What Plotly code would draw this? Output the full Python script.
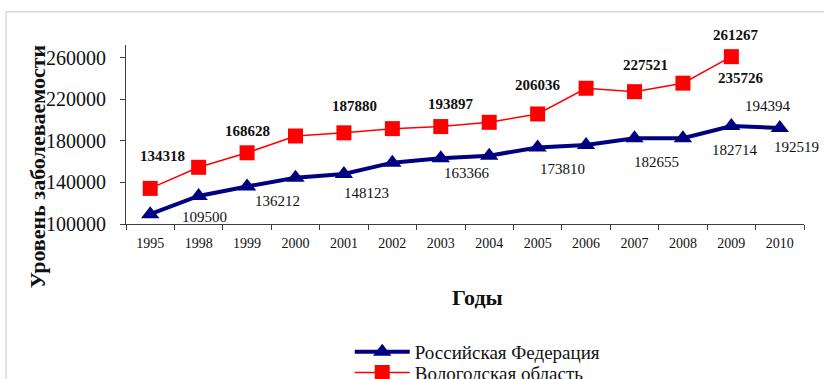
import plotly.graph_objects as go

# Годы наблюдения (категориальная ось)
years = ["1995", "1998", "1999", "2000", "2001", "2002", "2003",
         "2004", "2005", "2006", "2007", "2008", "2009", "2010"]

# Уровень заболеваемости, Российская Федерация
rf_values = [109500, 127000, 136212, 144500, 148123, 159100, 163366,
             165800, 173810, 176100, 182655, 182714, 194394, 192519]

# Уровень заболеваемости, Вологодская область (2010 нет данных)
vo_values = [134318, 154650, 168628, 184800, 187880, 191900, 193897,
             198000, 206036, 230800, 227521, 235726, 261267, None]

# Подписи значений: год, значение, смещение подписи (px)
rf_labels = [("1995", 109500, 54, -3), ("1999", 136212, 30, -15),
             ("2001", 148123, 23, -19), ("2003", 163366, 26, -15),
             ("2005", 173810, 25, -22), ("2007", 182655, 22, -24),
             ("2008", 182714, 52, -12), ("2009", 194394, 37, 20),
             ("2010", 192519, 17, -19)]
vo_labels = [("1995", 134318, 12, 32), ("1999", 168628, 0, 22),
             ("2001", 187880, 11, 27), ("2003", 193897, 10, 23),
             ("2005", 206036, 0, 29), ("2007", 227521, 11, 27),
             ("2008", 235726, 58, 5), ("2009", 261267, 5, 22)]

y_ticks = [100000, 140000, 180000, 220000, 260000]

SERIF = "Liberation Serif, Times New Roman, serif"

fig = go.Figure()
fig.add_trace(go.Scatter(
    x=years, y=rf_values, name="Российская Федерация", mode="lines+markers",
    line=dict(color="#000080", width=4),
    marker=dict(symbol="triangle-up", size=16, color="#000080"),
    legend="legend",
))
fig.add_trace(go.Scatter(
    x=years, y=vo_values, name="Вологодская область", mode="lines+markers",
    line=dict(color="#ff0000", width=1.5),
    marker=dict(symbol="square", size=15, color="#ff0000"),
    legend="legend2",
))

annotations = []
# Категории задаются индексом позиции на оси
for yr, val, dx, dy in rf_labels:
    annotations.append(dict(x=years.index(yr), y=val, xref="x", yref="y",
                            text=str(val), showarrow=False,
                            xanchor="center", yanchor="middle",
                            xshift=dx, yshift=dy,
                            font=dict(family=SERIF, size=15, color="#111")))
for yr, val, dx, dy in vo_labels:
    annotations.append(dict(x=years.index(yr), y=val, xref="x", yref="y",
                            text=str(val), showarrow=False,
                            xanchor="center", yanchor="middle",
                            xshift=dx, yshift=dy,
                            font=dict(family=SERIF, size=15, color="#111",
                                      weight="bold")))

# Заголовки осей
annotations.append(dict(x=-0.131, y=0.324, xref="paper", yref="paper",
                        xanchor="center", yanchor="middle",
                        text="Уровень заболеваемости", textangle=-90,
                        showarrow=False,
                        font=dict(family=SERIF, size=22, color="#111",
                                  weight="bold")))
annotations.append(dict(x=0.518, y=-0.408, xref="paper", yref="paper",
                        xanchor="center", yanchor="middle",
                        text="Годы", showarrow=False,
                        font=dict(family=SERIF, size=22, color="#111",
                                  weight="bold")))

# Рамка области диаграммы (видны верхняя и левая стороны)
shapes = [
    dict(type="line", xref="paper", yref="paper", x0=-0.177, x1=1.2,
         y0=1.186, y1=1.186, line=dict(color="#d9d9d9", width=1.5)),
    dict(type="line", xref="paper", yref="paper", x0=-0.177, x1=-0.177,
         y0=1.186, y1=-1.0, line=dict(color="#d9d9d9", width=1.5)),
]

legend_style = dict(xanchor="left", yanchor="middle",
                    font=dict(family=SERIF, size=19, color="#111"),
                    itemwidth=55, bgcolor="rgba(0,0,0,0)")

fig.update_layout(
    width=824, height=379,
    margin=dict(l=126, r=20, t=45, b=155, autoexpand=False),
    paper_bgcolor="white", plot_bgcolor="white",
    showlegend=True,
    legend=dict(x=0.33, y=-0.715, **legend_style),
    legend2=dict(x=0.33, y=-0.83, **legend_style),
    annotations=annotations,
    shapes=shapes,
    xaxis=dict(type="category", categoryorder="array", categoryarray=years,
               range=[-0.5, len(years) - 0.5],
               showgrid=False, showline=True, linecolor="#404040",
               linewidth=1, ticks="outside", tickson="boundaries",
               ticklen=5, tickcolor="#404040", ticklabelstandoff=6,
               tickfont=dict(family=SERIF, size=14, color="#111"),
               zeroline=False),
    yaxis=dict(range=[100000, 272500], tickvals=y_ticks,
               ticktext=[str(v) for v in y_ticks],
               showgrid=False, showline=True, linecolor="#404040",
               linewidth=1, ticks="outside", ticklen=5, tickcolor="#404040",
               ticklabelstandoff=10,
               tickfont=dict(family=SERIF, size=20, color="#111"),
               zeroline=False),
)

fig.write_html("out.html")
